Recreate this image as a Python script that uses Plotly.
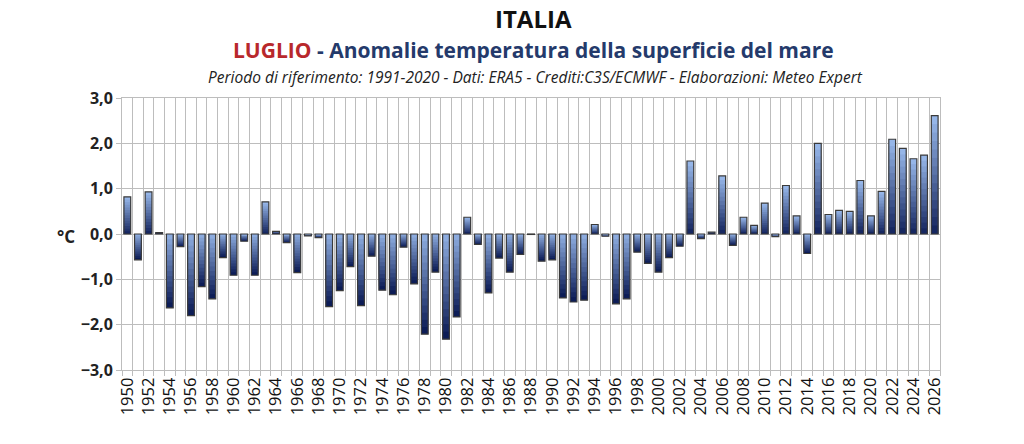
import plotly.graph_objects as go

years = list(range(1950, 2027))
anomalies = [
    0.82, -0.57, 0.93, 0.03, -1.63, -0.28, -1.80, -1.16, -1.43, -0.52,
    -0.91, -0.16, -0.91, 0.71, 0.06, -0.19, -0.85, -0.04, -0.08, -1.60,
    -1.25, -0.72, -1.58, -0.49, -1.24, -1.34, -0.29, -1.10, -2.21, -0.84,
    -2.32, -1.83, 0.37, -0.23, -1.30, -0.53, -0.84, -0.45, -0.01, -0.60,
    -0.57, -1.41, -1.50, -1.46, 0.21, -0.05, -1.54, -1.43, -0.40, -0.65,
    -0.84, -0.52, -0.27, 1.61, -0.10, 0.04, 1.28, -0.25, 0.37, 0.19,
    0.68, -0.06, 1.07, 0.40, -0.43, 2.00, 0.43, 0.52, 0.50, 1.18,
    0.40, 0.94, 2.09, 1.89, 1.66, 1.74, 2.61,
]
tick_years = [y for y in years if y % 2 == 0]
tick_labels = [str(y) for y in tick_years]
y_ticks = [-3, -2, -1, 0, 1, 2, 3]

LIGHT = (150, 182, 232)
DARK = (12, 28, 86)


def lerp(c1, c2, t):
    return "rgb(%d,%d,%d)" % tuple(round(a + (b - a) * t) for a, b in zip(c1, c2))


fig = go.Figure()
N = 14
BW = 0.64
for k in range(N):
    f = 1 - k / N
    vals = [v * f for v in anomalies]
    cols = [lerp(DARK, LIGHT, f) if v >= 0 else lerp(LIGHT, DARK, f) for v in anomalies]
    fig.add_trace(go.Bar(x=years, y=vals, width=BW, marker=dict(color=cols, line=dict(width=0)),
                         showlegend=False, hoverinfo="skip"))
# outline
fig.add_trace(go.Bar(x=years, y=anomalies, width=BW,
                     marker=dict(color="rgba(0,0,0,0)", line=dict(color="#3a3a3a", width=1.2)),
                     showlegend=False))

fig.update_layout(
    barmode="overlay",
    width=1024, height=444,
    margin=dict(l=122, r=84, t=98, b=74, autoexpand=False),
    paper_bgcolor="white", plot_bgcolor="white",
    separators=",.",
    font=dict(family="Open Sans, sans-serif", color="#222222"),
)
fig.update_xaxes(
    type="linear", range=[1949.5, 2026.5],
    tickmode="array", tickvals=tick_years, ticktext=tick_labels,
    tickangle=-90, tickfont=dict(size=16.5, color="#111111"),
    showgrid=False, ticks="",
    minor=dict(tick0=1949.5, dtick=1, showgrid=True, gridcolor="#bdbdbd", gridwidth=1,
               ticks="outside", ticklen=5, tickcolor="#bdbdbd"),
    showline=True, mirror=True, linecolor="#bdbdbd", linewidth=1,
    zeroline=False,
)
fig.update_yaxes(
    range=[-3, 3], tickmode="array", tickvals=y_ticks, tickformat=".1f",
    tickfont=dict(size=16, color="#222222", weight="bold"),
    showgrid=True, gridcolor="#bdbdbd", gridwidth=1,
    ticks="outside", ticklen=5, tickcolor="#bdbdbd",
    showline=True, mirror=True, linecolor="#bdbdbd", linewidth=1,
    zeroline=False,
)

PW, PH = 818, 272
fig.add_annotation(text="<b>ITALIA</b>", xref="paper", yref="paper",
                   x=(533 - 122) / PW, y=1 + (98 - 19) / PH,
                   showarrow=False, xanchor="center", yanchor="middle",
                   font=dict(size=24, color="#111111"))
fig.add_annotation(text="<b><span style='color:#b8282c'>LUGLIO</span> - Anomalie temperatura della superficie del mare</b>",
                   xref="paper", yref="paper",
                   x=(533 - 122) / PW, y=1 + (98 - 50) / PH,
                   showarrow=False, xanchor="center", yanchor="middle",
                   font=dict(size=21, color="#243a6b"))
fig.add_annotation(text="<i>Periodo di riferimento: 1991-2020 - Dati: ERA5 - Crediti:C3S/ECMWF - Elaborazioni: Meteo Expert</i>",
                   xref="paper", yref="paper",
                   x=(535 - 122) / PW, y=1 + (98 - 77) / PH,
                   showarrow=False, xanchor="center", yanchor="middle",
                   font=dict(size=15.5, color="#222222"))
fig.add_annotation(text="<b>°C</b>", xref="paper", yref="paper",
                   x=(66 - 122) / PW, y=(370 - 236) / PH,
                   showarrow=False, xanchor="center", yanchor="middle",
                   font=dict(size=17, color="#222222"))

fig.write_html("out.html", config={"displayModeBar": False},
               post_script="document.body.style.margin='0';")
